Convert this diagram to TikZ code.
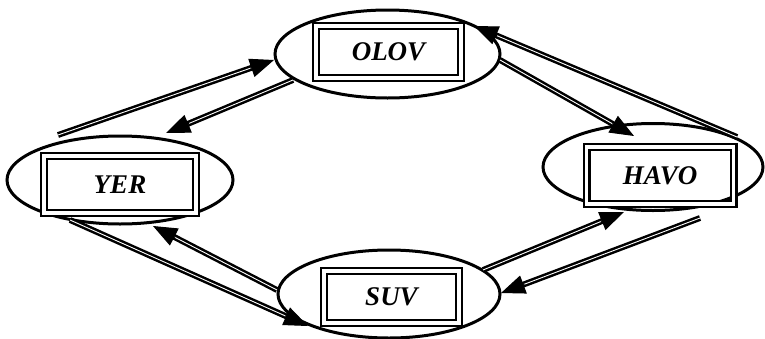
\documentclass[tikz,border=0pt]{standalone}
\usepackage{fontspec}
\setmainfont{Liberation Serif}
\usetikzlibrary{arrows.meta,shapes.geometric,calc}
\begin{document}
\begin{tikzpicture}[x=1pt,y=-1pt,
  oval/.style={draw, ellipse, line width=3pt, inner sep=0pt},
  frame/.style={draw, rectangle, line width=2.2pt, double=white, double distance=3.6pt,
     inner sep=0pt, font=\fontsize{27}{29}\selectfont\bfseries\itshape},
  shaft/.style={line width=2.5pt, double=white, double distance=0.9pt, shorten >=16pt},
  tip/.style={line width=1pt, -{Triangle[length=24pt,width=19pt]}}]
\useasboundingbox (0,0) rectangle (765,338);
% ellipses
\node[oval, minimum width=225pt, minimum height=88pt] (eO) at (387.5,54) {};
\node[oval, minimum width=226pt, minimum height=88pt] (eY) at (120,180) {};
\node[oval, minimum width=220pt, minimum height=87pt] (eH) at (653,167) {};
\node[oval, minimum width=222pt, minimum height=88pt] (eS) at (389,294) {};
% framed labels
\node[frame, minimum width=145pt, minimum height=52pt] (O) at (388.5,52) {OLOV};
\node[frame, minimum width=152pt, minimum height=57pt] (Y) at (120,184.5) {YER};
\node[frame, minimum width=147pt, minimum height=57pt] (H) at (660,175.5) {HAVO};
\node[frame, minimum width=135pt, minimum height=52pt] (S) at (391.5,297) {SUV};
% connector ends
\coordinate (y1) at (58,135);   \coordinate (o1) at (274,60);
\coordinate (o2) at (293,80);   \coordinate (y2) at (166,133);
\coordinate (o3) at (500,60);   \coordinate (h3) at (634,136);
\coordinate (h4) at (737,137);  \coordinate (o4) at (474,26);
\coordinate (y5) at (70,220);   \coordinate (s5) at (308,326);
\coordinate (s6) at (277,290);  \coordinate (y6) at (153,226);
\coordinate (s7) at (483,270);  \coordinate (h7) at (624,212);
\coordinate (h8) at (700,218);  \coordinate (s8) at (501,293);
% connectors
\foreach \a/\b in {y1/o1,o2/y2,o3/h3,h4/o4,y5/s5,s6/y6,s7/h7,h8/s8}{
  \draw[shaft] (\a) -- (\b);
  \draw[tip] ($(\b)!25pt!(\a)$) -- (\b);
}
\end{tikzpicture}
\end{document}
